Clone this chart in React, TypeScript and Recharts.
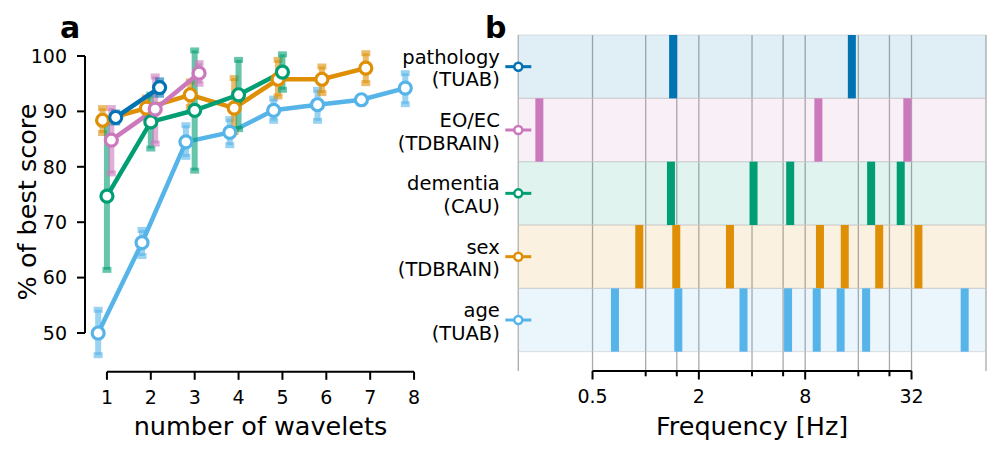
import React from 'react';
import {
  LineChart,
  Line,
  XAxis,
  YAxis,
  ErrorBar,
  ReferenceLine,
  ReferenceArea,
  ComposedChart,
  Scatter,
  CartesianGrid,
} from 'recharts';

// ---- panel a: score vs number of wavelets ----
const WAVELETS = [1, 2, 3, 4, 5, 6, 7, 8];
const SCORE_TICKS = [50, 60, 70, 80, 90, 100];

const PATHOLOGY_SCORE = [88.9, 94.3];
const PATHOLOGY_LO = [88.0, 93.0];
const PATHOLOGY_HI = [89.8, 95.6];

const EOEC_SCORE = [84.8, 90.4, 96.9];
const EOEC_LO = [78.8, 84.2, 95.0];
const EOEC_HI = [90.6, 96.3, 98.7];

const DEMENTIA_SCORE = [74.7, 88.1, 90.2, 93.0, 97.1];
const DEMENTIA_LO = [61.4, 83.3, 79.3, 86.8, 93.9];
const DEMENTIA_HI = [88.0, 93.0, 101.0, 99.3, 100.3];

const SEX_SCORE = [88.4, 90.6, 93.0, 90.6, 95.8, 95.8, 97.8];
const SEX_LO = [86.1, 88.9, 90.8, 86.3, 92.7, 93.3, 95.1];
const SEX_HI = [90.6, 92.5, 95.4, 96.0, 99.3, 98.1, 100.5];

const AGE_SCORE = [50.0, 66.3, 84.5, 86.2, 90.2, 91.2, 92.1, 94.2];
const AGE_LO = [46.0, 63.9, 81.8, 83.9, 88.3, 88.3, 91.6, 91.3];
const AGE_HI = [54.2, 68.6, 87.5, 88.6, 92.3, 93.9, 92.6, 96.9];

// ---- panel b: selected wavelet frequencies ----
const PATHOLOGY_FREQS = [1.43, 14.7];
const EOEC_FREQS = [0.25, 9.5, 30.3];
const DEMENTIA_FREQS = [1.39, 4.08, 6.58, 18.9, 27.8];
const SEX_FREQS = [0.92, 1.49, 3.0, 9.7, 13.4, 21, 35];
const AGE_FREQS = [0.67, 1.53, 3.58, 6.4, 9.3, 12.7, 17.7, 64];

const FREQ_TICKS = [0.5, 1, 1.5, 2, 4, 6, 8, 16, 24, 32];
const FREQ_LABELS = [0.5, 2, 8, 32];

// top-to-bottom task order
const TASKS = ['pathology', 'EO/EC', 'dementia', 'sex', 'age'];
const DATASETS = ['(TUAB)', '(TDBRAIN)', '(CAU)', '(TDBRAIN)', '(TUAB)'];
const COLORS = ['#0173B2', '#CC78BC', '#029E73', '#DE8F05', '#56B4E9'];
const DODGE = [0.2, 0.1, 0, -0.1, -0.2];

const SCORES = [PATHOLOGY_SCORE, EOEC_SCORE, DEMENTIA_SCORE, SEX_SCORE, AGE_SCORE];
const LOWS = [PATHOLOGY_LO, EOEC_LO, DEMENTIA_LO, SEX_LO, AGE_LO];
const HIGHS = [PATHOLOGY_HI, EOEC_HI, DEMENTIA_HI, SEX_HI, AGE_HI];
const FREQS = [PATHOLOGY_FREQS, EOEC_FREQS, DEMENTIA_FREQS, SEX_FREQS, AGE_FREQS];

const DRAW_ORDER = [4, 3, 2, 1, 0];

const FONT = 'DejaVu Sans';
const H = 455;

// layout of panel a
const A_W = 440;
const A_TOP = 44.9;
const A_YAXIS_W = 85;
const A_XAXIS_H = 83.2;
const A_X_DOMAIN = [0.5, 8.5];
const A_Y_DOMAIN = [43, 102];

// layout of panel b
const B_LEFT = 390;
const B_W = 610;
const B_TOP = 35;
const B_YAXIS_W = 128.3;
const B_XAXIS_H = 84;
const B_X_DOMAIN = [0.19, 84.5];
const B_Y_DOMAIN = [-0.305, 5];
const ROW_PX = (H - B_TOP - B_XAXIS_H) / (B_Y_DOMAIN[1] - B_Y_DOMAIN[0]);
const BAR_W = 8;

function rgba(hex: string, a: number) {
  const n = parseInt(hex.slice(1), 16);
  return `rgba(${(n >> 16) & 255},${(n >> 8) & 255},${n & 255},${a})`;
}

function seriesData(i: number) {
  return SCORES[i].map((v, k) => ({
    x: WAVELETS[k] + DODGE[i],
    y: v,
    err: [v - LOWS[i][k], HIGHS[i][k] - v],
  }));
}

function rowPos(i: number) {
  return TASKS.length - 1 - i + 0.5;
}

function FreqTick(props: any) {
  const { x, y, payload } = props;
  const major = FREQ_LABELS.includes(payload.value);
  const axisY = y - 8 - 11;
  return (
    <g>
      <line x1={x} x2={x} y1={axisY} y2={axisY + (major ? 8.5 : 5.3)} stroke="#000" strokeWidth={2} />
      {major && (
        <text x={x} y={axisY + 19} dy="0.71em" textAnchor="middle" fontSize={19} fill="#000">
          {payload.value}
        </text>
      )}
    </g>
  );
}

function RowTick(props: any) {
  const { x, y, payload } = props;
  const i = TASKS.length - 1 - Math.floor(payload.value);
  const c = COLORS[i];
  return (
    <g>
      <text x={x - 18.5} y={y - 3} textAnchor="end" fontSize={19.5} fill="#000">
        {TASKS[i]}
      </text>
      <text x={x - 18.5} y={y + 19.5} textAnchor="end" fontSize={19.5} fill="#000">
        {DATASETS[i]}
      </text>
      <line x1={x - 13} x2={x + 13} y1={y} y2={y} stroke={c} strokeWidth={3} />
      <circle cx={x} cy={y} r={4} fill="#fff" stroke={c} strokeWidth={2.5} />
    </g>
  );
}

export default function App() {
  return (
    <div style={{ position: 'relative', width: 1000, height: H, background: '#fff', fontFamily: FONT }}>
      <style>{'body{margin:0}'}</style>

      <div style={{ position: 'absolute', left: 0, top: 0 }}>
        <LineChart width={A_W} height={H} margin={{ top: A_TOP, right: 4, bottom: 0, left: 0 }}>
          <XAxis
            type="number"
            dataKey="x"
            domain={A_X_DOMAIN}
            ticks={WAVELETS}
            interval={0}
            height={A_XAXIS_H}
            axisLine={false}
            tickSize={8}
            tickMargin={11}
            tickLine={{ stroke: '#000', strokeWidth: 2 }}
            tick={{ fill: '#000', fontSize: 19 }}
            label={{ value: 'number of wavelets', position: 'insideBottom', offset: 20, fill: '#000', fontSize: 25.5 }}
          />
          <YAxis
            type="number"
            domain={A_Y_DOMAIN}
            ticks={SCORE_TICKS}
            interval={0}
            width={A_YAXIS_W}
            axisLine={false}
            tickSize={8}
            tickMargin={10}
            tickLine={{ stroke: '#000', strokeWidth: 2 }}
            tick={{ fill: '#000', fontSize: 19 }}
            label={{
              content: () => (
                <g>
                  <text x={36} y={202} transform="rotate(-90 36 202)" textAnchor="middle" fontSize={25.5} fill="#000">
                    % of best score
                  </text>
                  <text x={60} y={38} fontSize={30} fontWeight="bold" fill="#000">
                    a
                  </text>
                </g>
              ),
            }}
          />
          <ReferenceLine segment={[{ x: 1, y: A_Y_DOMAIN[0] }, { x: 8, y: A_Y_DOMAIN[0] }]} stroke="#000" strokeWidth={2} />
          <ReferenceLine segment={[{ x: A_X_DOMAIN[0], y: 50 }, { x: A_X_DOMAIN[0], y: 100 }]} stroke="#000" strokeWidth={2} />
          {DRAW_ORDER.map((i) => (
            <Line
              key={TASKS[i]}
              data={seriesData(i)}
              dataKey="y"
              stroke={COLORS[i]}
              strokeWidth={4.5}
              dot={{ r: 6, fill: '#fff', stroke: COLORS[i], strokeWidth: 3.2 }}
              activeDot={false}
              isAnimationActive={false}
            >
              <ErrorBar dataKey="err" direction="y" width={4.5} strokeWidth={6} stroke={rgba(COLORS[i], 0.6)} />
            </Line>
          ))}
        </LineChart>
      </div>

      <div style={{ position: 'absolute', left: B_LEFT, top: 0 }}>
        <ComposedChart width={B_W} height={H} margin={{ top: B_TOP, right: 14, bottom: 0, left: 0 }}>
          <CartesianGrid horizontal={false} stroke="#aaaaaa" strokeWidth={1.3} />
          <XAxis
            type="number"
            dataKey="f"
            scale="log"
            domain={B_X_DOMAIN}
            allowDataOverflow
            ticks={FREQ_TICKS}
            interval={0}
            height={B_XAXIS_H}
            axisLine={false}
            tickLine={false}
            tickSize={8}
            tickMargin={11}
            tick={<FreqTick />}
            label={{ value: 'Frequency [Hz]', position: 'insideBottom', offset: 20, fill: '#000', fontSize: 25.5 }}
          />
          <YAxis
            type="number"
            dataKey="row"
            domain={B_Y_DOMAIN}
            ticks={TASKS.map((_, i) => rowPos(i))}
            interval={0}
            width={B_YAXIS_W}
            axisLine={false}
            tickLine={false}
            tickSize={0}
            tickMargin={0}
            tick={<RowTick />}
            label={{
              content: () => (
                <text x={95} y={38} fontSize={30} fontWeight="bold" fill="#000">
                  b
                </text>
              ),
            }}
          />
          {TASKS.map((t, i) => (
            <ReferenceArea
              key={t}
              x1={B_X_DOMAIN[0]}
              x2={B_X_DOMAIN[1]}
              y1={rowPos(i) - 0.5}
              y2={rowPos(i) + 0.5}
              fill={COLORS[i]}
              fillOpacity={0.12}
              stroke="#c8c8c8"
              strokeOpacity={0.6}
              strokeWidth={1}
            />
          ))}
          <ReferenceLine segment={[{ x: 0.5, y: B_Y_DOMAIN[0] }, { x: 32, y: B_Y_DOMAIN[0] }]} stroke="#000" strokeWidth={2} />
          {TASKS.map((t, i) => (
            <Scatter
              key={t}
              data={FREQS[i].map((f) => ({ f, row: rowPos(i) }))}
              fill={COLORS[i]}
              isAnimationActive={false}
              shape={(p: any) => (
                <rect x={p.cx - BAR_W / 2} y={p.cy - ROW_PX / 2} width={BAR_W} height={ROW_PX} fill={COLORS[i]} />
              )}
            />
          ))}
        </ComposedChart>
      </div>
    </div>
  );
}
